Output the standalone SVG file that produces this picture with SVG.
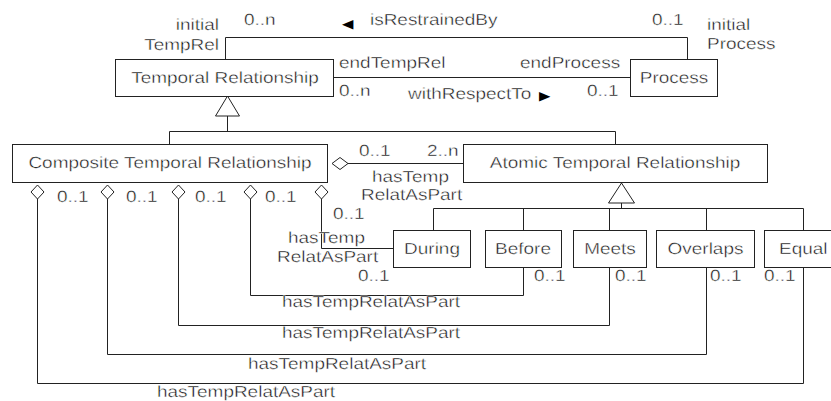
<svg xmlns="http://www.w3.org/2000/svg" width="831" height="401" viewBox="0 0 831 401">
<style>
.t{font-family:"Liberation Sans",Arial,sans-serif;font-size:16px;font-weight:normal;fill:#111;stroke:#fff;stroke-width:0.4px;text-rendering:geometricPrecision}
.m{text-anchor:middle}
.e{text-anchor:end}
.sym{font-family:"DejaVu Sans",sans-serif;font-size:12.5px;fill:#000;stroke:none}
.box{fill:#fff;stroke:#222;stroke-width:1}
.ln{fill:none;stroke:#222;stroke-width:1}
.gen{fill:#fff;stroke:#222;stroke-width:1}
.dia{fill:#fff;stroke:#222;stroke-width:1}
</style>
<rect width="831" height="401" fill="#fff"/>
<g id="connectors">
  <polyline class="ln" points="225.5,59 225.5,37.5 687.5,37.5 687.5,59"/>
  <line class="ln" x1="333" y1="77.5" x2="630" y2="77.5"/>
  <polygon class="gen" points="227.5,96 215.5,116 239.5,116"/>
  <polyline class="ln" points="227.5,116 227.5,131.5"/>
  <polyline class="ln" points="169.5,144 169.5,131.5 615.5,131.5 615.5,144"/>
  <polygon class="dia" points="332,163.5 340,157.5 348,163.5 340,169.5"/>
  <line class="ln" x1="348" y1="163.5" x2="463" y2="163.5"/>
  <polygon class="gen" points="621.5,183 608.5,203 634.5,203"/>
  <line class="ln" x1="621.5" y1="203" x2="621.5" y2="208.5"/>
  <polyline class="ln" points="433.5,230 433.5,208.5 803.5,208.5 803.5,230"/>
  <line class="ln" x1="523.5" y1="208.5" x2="523.5" y2="230"/>
  <line class="ln" x1="609.5" y1="208.5" x2="609.5" y2="230"/>
  <line class="ln" x1="706.5" y1="208.5" x2="706.5" y2="230"/>
  <polygon class="dia" points="321.5,185 328,192 321.5,199 315,192"/>
  <polygon class="dia" points="250.5,185 257,192 250.5,199 244,192"/>
  <polygon class="dia" points="178.5,185 185,192 178.5,199 172,192"/>
  <polygon class="dia" points="107.5,185 114,192 107.5,199 101,192"/>
  <polygon class="dia" points="37.5,185 44,192 37.5,199 31,192"/>
  <polyline class="ln" points="321.5,199 321.5,248.5 393,248.5"/>
  <polyline class="ln" points="250.5,199 250.5,295.5 523.5,295.5 523.5,267"/>
  <polyline class="ln" points="178.5,199 178.5,325.5 609.5,325.5 609.5,267"/>
  <polyline class="ln" points="107.5,199 107.5,354.5 706.5,354.5 706.5,267"/>
  <polyline class="ln" points="37.5,199 37.5,383.5 803.5,383.5 803.5,267"/>
</g>
<g id="labels">
  <text class="t e" transform="translate(219,30) scale(1.185,1)">initial</text>
  <text class="t e" transform="translate(219,50) scale(1.185,1)">TempRel</text>
  <text class="t" transform="translate(244,25) scale(1.185,1)">0..n</text>
  <text class="t" transform="translate(342,28) scale(1.185,1)"><tspan class="sym">◀</tspan><tspan x="23.6" y="-3">isRestrainedBy</tspan></text>
  <text class="t" transform="translate(652,25) scale(1.185,1)">0..1</text>
  <text class="t" transform="translate(707,30) scale(1.185,1)">initial</text>
  <text class="t" transform="translate(707,49) scale(1.185,1)">Process</text>
  <text class="t" transform="translate(339,68) scale(1.185,1)">endTempRel</text>
  <text class="t" transform="translate(520,68) scale(1.185,1)">endProcess</text>
  <text class="t" transform="translate(339,96) scale(1.185,1)">0..n</text>
  <text class="t" transform="translate(408,99) scale(1.185,1)">withRespectTo <tspan class="sym" x="110.5" y="1">▶</tspan></text>
  <text class="t" transform="translate(587,96) scale(1.185,1)">0..1</text>
  <text class="t" transform="translate(359,156) scale(1.185,1)">0..1</text>
  <text class="t" transform="translate(427,156) scale(1.185,1)">2..n</text>
  <text class="t" transform="translate(372,182) scale(1.185,1)">hasTemp</text>
  <text class="t" transform="translate(361,200) scale(1.185,1)">RelatAsPart</text>
  <text class="t" transform="translate(57,202) scale(1.185,1)">0..1</text>
  <text class="t" transform="translate(126,202) scale(1.185,1)">0..1</text>
  <text class="t" transform="translate(195,202) scale(1.185,1)">0..1</text>
  <text class="t" transform="translate(265,202) scale(1.185,1)">0..1</text>
  <text class="t" transform="translate(333,219) scale(1.185,1)">0..1</text>
  <text class="t" transform="translate(288,243) scale(1.185,1)">hasTemp</text>
  <text class="t" transform="translate(277,262) scale(1.185,1)">RelatAsPart</text>
  <text class="t" transform="translate(358,281) scale(1.185,1)">0..1</text>
  <text class="t" transform="translate(534,281) scale(1.185,1)">0..1</text>
  <text class="t" transform="translate(615,281) scale(1.185,1)">0..1</text>
  <text class="t" transform="translate(710,281) scale(1.185,1)">0..1</text>
  <text class="t" transform="translate(764,281) scale(1.185,1)">0..1</text>
  <text class="t" transform="translate(282,307) scale(1.185,1)">hasTempRelatAsPart</text>
  <text class="t" transform="translate(282,338) scale(1.185,1)">hasTempRelatAsPart</text>
  <text class="t" transform="translate(248,369) scale(1.185,1)">hasTempRelatAsPart</text>
  <text class="t" transform="translate(157,397) scale(1.185,1)">hasTempRelatAsPart</text>
</g>
<g id="temporal-relationship">
  <rect class="box" x="115.5" y="59.5" width="218" height="37"/>
  <text class="t m" transform="translate(225,83) scale(1.185,1)">Temporal Relationship</text>
</g>
<g id="process">
  <rect class="box" x="630.5" y="59.5" width="87" height="37"/>
  <text class="t m" transform="translate(674,83) scale(1.185,1)">Process</text>
</g>
<g id="composite">
  <rect class="box" x="12.5" y="144.5" width="315" height="38"/>
  <text class="t m" transform="translate(170,168) scale(1.185,1)">Composite Temporal Relationship</text>
</g>
<g id="atomic">
  <rect class="box" x="463.5" y="144.5" width="304" height="38"/>
  <text class="t m" transform="translate(615,168) scale(1.185,1)">Atomic Temporal Relationship</text>
</g>
<g id="during">
  <rect class="box" x="393.5" y="230.5" width="77" height="37"/>
  <text class="t m" transform="translate(432,254) scale(1.185,1)">During</text>
</g>
<g id="before">
  <rect class="box" x="485.5" y="230.5" width="76" height="37"/>
  <text class="t m" transform="translate(523,254) scale(1.185,1)">Before</text>
</g>
<g id="meets">
  <rect class="box" x="573.5" y="230.5" width="73" height="37"/>
  <text class="t m" transform="translate(610,254) scale(1.185,1)">Meets</text>
</g>
<g id="overlaps">
  <rect class="box" x="656.5" y="230.5" width="98" height="37"/>
  <text class="t m" transform="translate(705.5,254) scale(1.185,1)">Overlaps</text>
</g>
<g id="equal">
  <rect class="box" x="764.5" y="230.5" width="80" height="37"/>
  <text class="t" transform="translate(779,254) scale(1.185,1)">Equal</text>
</g>
</svg>
